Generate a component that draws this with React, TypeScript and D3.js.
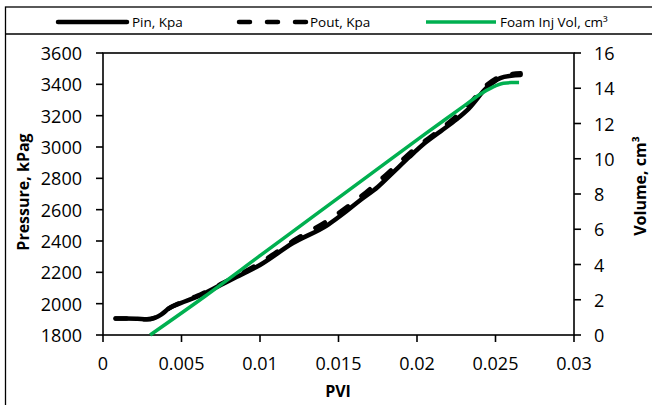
import React from "react";
import * as d3 from "d3";

const pinPVI = [0.0008, 0.0015, 0.0022, 0.0028, 0.0033, 0.0037, 0.0042, 0.0049, 0.006, 0.0075, 0.0085, 0.01, 0.0121, 0.0143, 0.0155, 0.0164, 0.0175, 0.0185, 0.0195, 0.0205, 0.0215, 0.0225, 0.0233, 0.0245, 0.0253, 0.026, 0.0266];
const pinKpa = [1905, 1905, 1903, 1900, 1910, 1930, 1970, 2002, 2045, 2120, 2170, 2247, 2387, 2502, 2590, 2662, 2745, 2840, 2935, 3025, 3100, 3175, 3245, 3385, 3440, 3455, 3460];

const poutPVI = [0.0008, 0.0015, 0.0022, 0.0028, 0.0033, 0.0037, 0.0042, 0.0049, 0.006, 0.0075, 0.01, 0.0121, 0.0143, 0.0165, 0.0185, 0.02, 0.021, 0.0232, 0.0245, 0.0253, 0.026, 0.0266];
const poutKpa = [1905, 1905, 1903, 1900, 1910, 1930, 1970, 2005, 2050, 2125, 2260, 2400, 2530, 2690, 2865, 3000, 3075, 3260, 3400, 3450, 3465, 3470];

const volPVI = [0.003, 0.0065, 0.01, 0.0135, 0.017, 0.0205, 0.023, 0.024, 0.0248, 0.0255, 0.026, 0.0265];
const volCm3 = [0, 2.2, 4.5, 6.8, 9.1, 11.4, 13.0, 13.65, 14.05, 14.28, 14.32, 14.32];

const xTicks = [0, 0.005, 0.01, 0.015, 0.02, 0.025, 0.03];
const xTickLabels = ["0", "0.005", "0.01", "0.015", "0.02", "0.025", "0.03"];
const yTicks = [1800, 2000, 2200, 2400, 2600, 2800, 3000, 3200, 3400, 3600];
const y2Ticks = [0, 2, 4, 6, 8, 10, 12, 14, 16];

const legendLabels = ["Pin, Kpa", "Pout, Kpa", "Foam Inj Vol, cm³"];

const W = 652, H = 405;
const L = 103, R = 574, T = 53, B = 335;
const GREEN = "#00B050";
const FONT = "'Open Sans', sans-serif";

export default function App() {
  const x = d3.scaleLinear().domain([0, 0.03]).range([L, R]);
  const y = d3.scaleLinear().domain([1800, 3600]).range([B, T]);
  const y2 = d3.scaleLinear().domain([0, 16]).range([B, T]);

  const line = d3.line<[number, number]>().x(d => x(d[0])).y(d => y(d[1])).curve(d3.curveMonotoneX);
  const line2 = d3.line<[number, number]>().x(d => x(d[0])).y(d => y2(d[1])).curve(d3.curveMonotoneX);

  const pin = pinPVI.map((v, i) => [v, pinKpa[i]] as [number, number]);
  const pout = poutPVI.map((v, i) => [v, poutKpa[i]] as [number, number]);
  const vol = volPVI.map((v, i) => [v, volCm3[i]] as [number, number]);

  const legendX = [58, 237, 426];
  const legendY = 22;

  return (
    <svg width={W} height={H} style={{ position: "fixed", left: 0, top: 0, background: "#fff" }} fontFamily={FONT}>
      <rect x={0} y={0} width={W} height={H} fill="#fff" />
      <rect x={5.5} y={7} width={W + 20} height={H + 20} fill="none" stroke="#000" strokeWidth={1.3} />
      <line x1={5.5} x2={W} y1={34} y2={34} stroke="#000" strokeWidth={1.3} />

      <g>
        <line x1={legendX[0]} x2={legendX[0] + 69} y1={legendY} y2={legendY} stroke="#000" strokeWidth={4.5} strokeLinecap="round" />
        <text x={legendX[0] + 74} y={legendY + 5} fontSize={13.5}>{legendLabels[0]}</text>
        <line x1={legendX[1] + 2} x2={legendX[1] + 69} y1={legendY} y2={legendY} stroke="#000" strokeWidth={4.5} strokeLinecap="round" strokeDasharray="11,17" />
        <text x={legendX[1] + 73} y={legendY + 5} fontSize={13.5}>{legendLabels[1]}</text>
        <line x1={legendX[2]} x2={legendX[2] + 70} y1={legendY} y2={legendY} stroke={GREEN} strokeWidth={3.5} />
        <text x={legendX[2] + 74} y={legendY + 5} fontSize={13.5}>{legendLabels[2]}</text>
      </g>

      <rect x={L} y={T} width={R - L} height={B - T} fill="none" stroke="#000" strokeWidth={1.6} />

      {yTicks.map(t => (
        <g key={"y" + t}>
          <line x1={L - 7} x2={L} y1={y(t)} y2={y(t)} stroke="#000" strokeWidth={1.6} />
          <text x={82} y={y(t) + 7} textAnchor="end" fontSize={18}>{t}</text>
        </g>
      ))}
      {y2Ticks.map(t => (
        <g key={"y2" + t}>
          <line x1={R} x2={R + 7} y1={y2(t)} y2={y2(t)} stroke="#000" strokeWidth={1.6} />
          <text x={594} y={y2(t) + 7} textAnchor="start" fontSize={18}>{t}</text>
        </g>
      ))}
      {xTicks.map((t, i) => (
        <g key={"x" + t}>
          <line x1={x(t)} x2={x(t)} y1={B} y2={B + 7} stroke="#000" strokeWidth={1.6} />
          <text x={x(t)} y={370} textAnchor="middle" fontSize={18}>{xTickLabels[i]}</text>
        </g>
      ))}

      <text x={338} y={397} textAnchor="middle" fontSize={16} fontWeight="bold">PVI</text>
      <text transform={`translate(29,192) rotate(-90)`} textAnchor="middle" fontSize={16} fontWeight="bold">Pressure, kPag</text>
      <text transform={`translate(646,186) rotate(-90)`} textAnchor="middle" fontSize={16} fontWeight="bold">Volume, cm³</text>

      <path d={line(pin) || ""} fill="none" stroke="#000" strokeWidth={4.5} strokeLinecap="round" strokeLinejoin="round" />
      <path d={line(pout) || ""} fill="none" stroke="#000" strokeWidth={4.5} strokeLinecap="round" strokeDasharray="11,17" />
      <path d={line2(vol) || ""} fill="none" stroke={GREEN} strokeWidth={3.5} strokeLinejoin="round" />
    </svg>
  );
}
